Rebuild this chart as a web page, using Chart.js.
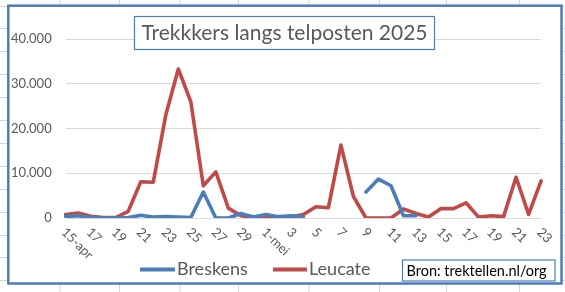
<!DOCTYPE html>
<html>
<head>
<meta charset="utf-8">
<script src="https://cdn.jsdelivr.net/npm/chart.js@4.4.1/dist/chart.umd.min.js"></script>
<style>
    html, body { margin: 0; padding: 0; background: #fff; }
    canvas { display: block; }
</style>
</head>
<body>
<canvas id="trekChart" width="565" height="292"></canvas>
<script>
// categories: 15 april t/m 23 mei
const days = ['15-apr', '16', '17', '18', '19', '20', '21', '22', '23', '24', '25', '26', '27', '28', '29', '30',
    '1-mei', '2', '3', '4', '5', '6', '7', '8', '9', '10', '11', '12', '13', '14', '15', '16', '17', '18', '19', '20', '21', '22', '23'];

const breskens = [300, 500, 100, 0, 0, 100, 600, 200, 300, 200, 100, 5800, 0, 0, 1000, 200,
    800, 300, 500, 200, null, null, null, null, 5800, 8700, 7200, 500, 500, null, null, null, null, null, null, null, null, null, null];

const leucate = [800, 1100, 400, 100, 100, 1500, 8100, 8000, 23000, 33300, 26000, 7200, 10300, 2200, 500, 200,
    200, 200, 200, 800, 2500, 2300, 16300, 4800, 0, 0, 0, 2000, 1000, 200, 2100, 2100, 3400, 200, 500, 300, 9100, 800, 8300];

const yTicks = [0, 10000, 20000, 30000, 40000];
const seriesNames = ['Breskens', 'Leucate'];
const seriesColors = ['#4a7ebb', '#be4b48'];
const chartTitle = 'Trekkkers langs telposten 2025';
const sourceText = 'Bron: trektellen.nl/org';

const FONT = 'Lato, "Open Sans", sans-serif';
const TEXT_GREY = '#595959';
const FRAME_BLUE = '#4a7ebb';

function formatNL(v) {
    return String(v).replace(/\B(?=(\d{3})+(?!\d))/g, '.');
}

// spreadsheet background, chart frame, title, rotated axis labels, legend, source box
const excelLook = {
    id: 'excelLook',
    beforeDraw(chart) {
        const ctx = chart.ctx;
        const W = chart.width, H = chart.height;
        ctx.save();
        ctx.fillStyle = '#ffffff';
        ctx.fillRect(0, 0, W, H);
        // cell lines
        ctx.strokeStyle = '#d6d6d6';
        ctx.lineWidth = 1;
        [60, 119.5, 180, 238.5, 309, 379.5, 446.5, 519.5].forEach(x => {
            ctx.beginPath(); ctx.moveTo(x, 0); ctx.lineTo(x, H); ctx.stroke();
        });
        for (let y = 5.5; y < H; y += 22.9) {
            ctx.beginPath(); ctx.moveTo(0, Math.round(y) + 0.5); ctx.lineTo(W, Math.round(y) + 0.5); ctx.stroke();
        }
        // chart area
        ctx.fillStyle = '#ffffff';
        ctx.fillRect(8, 6, 553, 277.5);
        ctx.strokeStyle = FRAME_BLUE;
        ctx.lineWidth = 2.5;
        ctx.strokeRect(8.3, 5.7, 553.2, 277.8);
        ctx.restore();
    },
    afterDraw(chart) {
        const ctx = chart.ctx;
        const xs = chart.scales.x;
        ctx.save();

        // x labels, every second day, rotated 45 degrees
        ctx.fillStyle = TEXT_GREY;
        ctx.font = '13px ' + FONT;
        ctx.textAlign = 'left';
        ctx.textBaseline = 'middle';
        days.forEach((d, i) => {
            if (i % 2 !== 0) return;
            const x = xs.getPixelForValue(i);
            ctx.save();
            ctx.translate(x - 2, 230);
            ctx.rotate(Math.PI / 4);
            ctx.fillText(d, 0, 0);
            ctx.restore();
        });

        // title box
        ctx.fillStyle = '#ffffff';
        ctx.fillRect(134.5, 16.5, 300, 33);
        ctx.strokeStyle = FRAME_BLUE;
        ctx.lineWidth = 1.2;
        ctx.strokeRect(134.5, 16.5, 300, 33);
        ctx.fillStyle = TEXT_GREY;
        ctx.font = '21px ' + FONT;
        ctx.textAlign = 'center';
        ctx.textBaseline = 'middle';
        ctx.fillText(chartTitle, 284.5, 33.5);

        // legend
        const legendY = 269.5;
        const legendItems = [
            { lineFrom: 140, lineTo: 175, textX: 177 },
            { lineFrom: 273, lineTo: 307, textX: 309 }
        ];
        ctx.font = '18px ' + FONT;
        ctx.textAlign = 'left';
        chart.data.datasets.forEach((ds, i) => {
            const it = legendItems[i];
            ctx.strokeStyle = ds.borderColor;
            ctx.lineWidth = 4;
            ctx.beginPath();
            ctx.moveTo(it.lineFrom, legendY);
            ctx.lineTo(it.lineTo, legendY);
            ctx.stroke();
            ctx.fillStyle = TEXT_GREY;
            ctx.fillText(ds.label, it.textX, legendY);
        });

        // source box
        ctx.fillStyle = '#ffffff';
        ctx.fillRect(402.5, 260, 152.5, 21);
        ctx.strokeStyle = FRAME_BLUE;
        ctx.lineWidth = 1.2;
        ctx.strokeRect(402.5, 260, 152.5, 21);
        ctx.fillStyle = '#000000';
        ctx.font = '14.5px ' + FONT;
        ctx.textAlign = 'left';
        ctx.fillText(sourceText, 406.5, 271);

        ctx.restore();
    }
};

new Chart('trekChart', {
    type: 'line',
    data: {
        labels: days,
        datasets: [
            {
                label: seriesNames[0],
                data: breskens,
                borderColor: seriesColors[0],
                backgroundColor: seriesColors[0],
            },
            {
                label: seriesNames[1],
                data: leucate,
                borderColor: seriesColors[1],
                backgroundColor: seriesColors[1],
            },
        ]
    },
    options: {
        responsive: false,
        animation: false,
        devicePixelRatio: 1,
        spanGaps: false,
        layout: {
            padding: { left: 8, right: 23.9, top: 39, bottom: 74 }
        },
        elements: {
            line: {
                borderWidth: 3.6,
                tension: 0,
                fill: false,
                borderJoinStyle: 'round',
                borderCapStyle: 'round',
            },
            point: {
                radius: 0,
                hoverRadius: 0,
            }
        },
        plugins: {
            legend: { display: false },
            title: { display: false },
            tooltip: { enabled: false }
        },
        scales: {
            x: {
                display: false,
                offset: false,
            },
            y: {
                min: 0,
                max: 40000,
                afterFit(scale) {
                    scale.width = 57.7;
                },
                afterBuildTicks(scale) {
                    scale.ticks = yTicks.map(v => ({ value: v }));
                },
                ticks: {
                    color: TEXT_GREY,
                    padding: 14,
                    font: { family: FONT, size: 13 },
                    callback: (v) => formatNL(v)
                },
                grid: {
                    color: '#d9d9d9',
                    lineWidth: 1,
                    drawTicks: false,
                },
                border: { display: false }
            }
        }
    },
    plugins: [excelLook]
});
</script>
</body>
</html>
